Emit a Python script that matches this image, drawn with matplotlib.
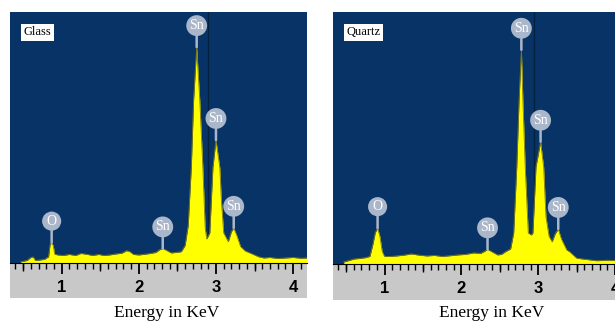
import matplotlib.pyplot as plt
from matplotlib.ticker import MultipleLocator, FixedLocator, NullFormatter

plt.rcParams["font.family"] = "Liberation Serif"

# spectrum values (energy in keV, counts in % of axis height)
glass_keV = [0.47, 0.55, 0.60, 0.63, 0.66, 0.72, 0.78, 0.83, 0.85, 0.87, 0.89,
             0.91, 0.95, 1.02, 1.10, 1.18, 1.25, 1.32, 1.40, 1.48, 1.55, 1.62,
             1.70, 1.78, 1.84, 1.88, 1.93, 2.00, 2.08, 2.15, 2.22, 2.27, 2.31,
             2.36, 2.42, 2.48, 2.55, 2.60, 2.64, 2.68, 2.71, 2.75, 2.79, 2.83,
             2.86, 2.88, 2.92, 2.94, 2.96, 3.00, 3.05, 3.07, 3.10, 3.16, 3.20,
             3.23, 3.27, 3.32, 3.38, 3.44, 3.50, 3.55, 3.62, 3.70, 3.80, 3.90,
             4.00, 4.10, 4.18]
glass_cts = [0.5, 1.0, 2.2, 2.4, 1.0, 1.2, 1.5, 2.5, 7.5, 8.1, 7.0,
             3.5, 3.2, 3.0, 3.4, 3.0, 3.8, 3.5, 3.0, 3.4, 3.0, 3.2,
             3.6, 3.9, 4.9, 4.6, 3.4, 3.2, 3.5, 3.8, 4.2, 5.3, 5.8,
             5.0, 4.0, 4.2, 4.5, 7.0, 15, 38, 65, 86, 65, 38,
             14, 9.6, 12, 25, 38, 49, 38, 25, 12, 8.5, 12.5,
             14, 11, 6.5, 4.8, 4.0, 3.2, 2.5, 2.0, 2.2, 1.8, 2.0,
             2.2, 1.9, 2.0]

quartz_keV = [0.47, 0.55, 0.61, 0.68, 0.75, 0.81, 0.85, 0.88, 0.91, 0.94, 0.97,
              1.00, 1.08, 1.16, 1.25, 1.35, 1.45, 1.55, 1.65, 1.75, 1.86, 1.95,
              2.05, 2.16, 2.25, 2.30, 2.34, 2.40, 2.47, 2.52, 2.58, 2.64, 2.68,
              2.72, 2.75, 2.78, 2.80, 2.83, 2.87, 2.91, 2.93, 2.97, 3.03, 3.07,
              3.10, 3.14, 3.18, 3.22, 3.26, 3.30, 3.37, 3.41, 3.50, 3.60, 3.76,
              3.90, 4.05, 4.18]
quartz_cts = [0.8, 1.5, 2.0, 2.2, 2.5, 3.0, 8, 12.5, 14.2, 11, 5,
              3.0, 3.0, 3.2, 3.5, 4.0, 3.5, 3.2, 3.4, 3.0, 3.3, 3.6,
              3.8, 4.4, 4.2, 5.0, 5.8, 4.8, 3.6, 3.8, 5.0, 6.0, 12.3,
              38.5, 65, 85, 65, 38.5, 12.3, 11.5, 12.3, 38.5, 48.5, 38.5,
              18.7, 11, 8.8, 12, 13.9, 10, 5.6, 4.8, 2.3, 1.9, 1.3,
              1.5, 1.3, 1.2]

glass_peaks = [("O", 0.87, 8.1), ("Sn", 2.31, 5.8), ("Sn", 2.75, 86),
               ("Sn", 3.00, 49), ("Sn", 3.23, 14)]
quartz_peaks = [("O", 0.91, 14.2), ("Sn", 2.34, 5.8), ("Sn", 2.78, 85),
                ("Sn", 3.03, 48.5), ("Sn", 3.26, 13.9)]

glass_marker = 2.895
quartz_marker = 2.94

navy = "#083366"
yellow = "#ffff00"
grey = "#c8c8c8"
bubble = "#aab6ca"

W, H = 615, 324
fig = plt.figure(figsize=(W / 100, H / 100), dpi=100)


def panel(rect, grey_rect, name, keV, cts, peaks, marker, label_x):
    gax = fig.add_axes([grey_rect[0] / W, grey_rect[1] / H,
                        grey_rect[2] / W, grey_rect[3] / H], zorder=0)
    gax.set_facecolor(grey)
    gax.set_xticks([])
    gax.set_yticks([])
    for s in gax.spines.values():
        s.set_visible(False)

    ax = fig.add_axes([rect[0] / W, rect[1] / H, rect[2] / W, rect[3] / H],
                      zorder=1)
    ax.set_facecolor(navy)
    ax.set_xlim(0.33, 4.18)
    ax.set_ylim(0, 100)
    ax.axvline(marker, color="#04203f", lw=0.9, zorder=1)
    ax.fill_between(keV, 0, cts, color=yellow, lw=0, zorder=2)
    ax.plot(keV, cts, color="#7f7a10", lw=0.6, zorder=3)

    for txt, x, y in peaks:
        ax.annotate(txt, xy=(x, y), xytext=(0, 15.5), textcoords="offset points",
                    ha="center", va="center", color="white", fontsize=10,
                    bbox=dict(boxstyle="circle,pad=0.22", fc=bubble, ec="none"),
                    arrowprops=dict(arrowstyle="-", color=bubble, lw=1.8,
                                    shrinkA=0, shrinkB=0),
                    zorder=5)

    ax.text(0.045, 0.92, name, transform=ax.transAxes, fontsize=9,
            ha="left", va="center", color="black",
            bbox=dict(boxstyle="square,pad=0.2", fc="white", ec="none"))

    for s in ("top", "left", "right"):
        ax.spines[s].set_visible(False)
    ax.spines["bottom"].set_color("black")
    ax.set_yticks([])
    ax.xaxis.set_major_locator(MultipleLocator(1))
    ax.xaxis.set_minor_locator(MultipleLocator(0.1))
    ax.tick_params(axis="x", which="major", direction="out", length=8,
                   width=1.3, pad=4, labelsize=12)
    ax.tick_params(axis="x", which="minor", direction="out", length=4, width=1)
    for lbl in ax.get_xticklabels():
        lbl.set_fontfamily("Liberation Sans")
        lbl.set_fontweight("bold")

    half = ax.secondary_xaxis("bottom")
    half.xaxis.set_major_locator(FixedLocator([0.5, 1.5, 2.5, 3.5]))
    half.xaxis.set_major_formatter(NullFormatter())
    half.tick_params(axis="x", direction="out", length=6, width=1)
    half.spines["bottom"].set_visible(False)

    fig.text(label_x / W, 1 - 313 / H, "Energy in KeV", ha="center",
             va="center", fontsize=12.5)
    return ax


panel((10, 61, 297, 251), (10, 26, 297, 35), "Glass",
      glass_keV, glass_cts, glass_peaks, glass_marker, 167)
panel((333, 60, 296, 252), (333, 24, 296, 36), "Quartz",
      quartz_keV, quartz_cts, quartz_peaks, quartz_marker, 492)

fig.savefig("out.png", dpi=100)
